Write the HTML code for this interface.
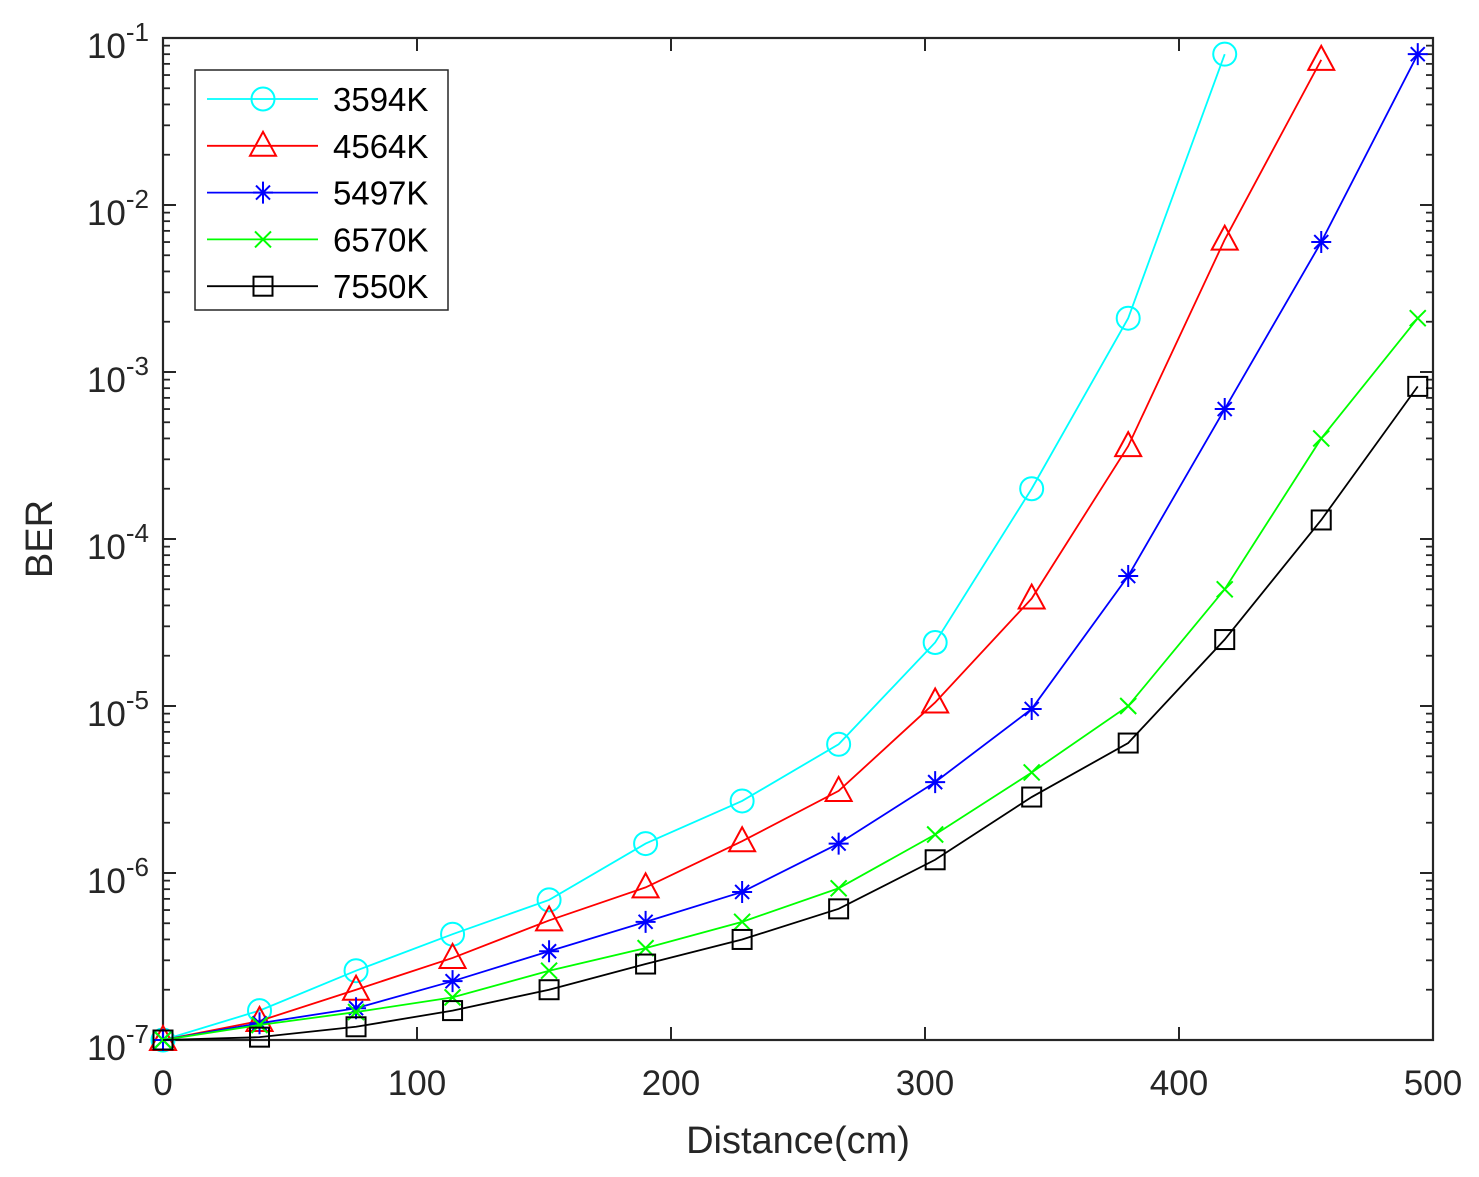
<!DOCTYPE html>
<html><head><meta charset="utf-8"><style>
html,body{margin:0;padding:0;background:#fff}
svg{display:block;font-family:"Liberation Sans",Arial,sans-serif}
</style></head><body>
<svg id="chart" width="1479" height="1177" xmlns="http://www.w3.org/2000/svg"></svg>
<script>
const xValues=[0,38,76,114,152,190,228,266,304,342,380,418,456,494];
const seriesNames=["3594K","4564K","5497K","6570K","7550K"];
const seriesColors=["#00ffff","#ff0000","#0000ff","#00ff00","#000000"];
const seriesMarkers=["circle","triangle","star","x","square"];
const s3594=[1e-7,1.5e-7,2.6e-7,4.3e-7,6.9e-7,1.5e-6,2.7e-6,5.9e-6,2.4e-5,2e-4,2.1e-3,0.08];
const s4564=[1e-7,1.3e-7,2e-7,3.1e-7,5.2e-7,8.2e-7,1.55e-6,3.1e-6,1.05e-5,4.4e-5,3.6e-4,6.2e-3,0.074];
const s5497=[1e-7,1.26e-7,1.55e-7,2.25e-7,3.4e-7,5.1e-7,7.7e-7,1.5e-6,3.5e-6,9.6e-6,6e-5,6e-4,6e-3,0.08];
const s6570=[1e-7,1.23e-7,1.47e-7,1.8e-7,2.6e-7,3.55e-7,5.1e-7,8.1e-7,1.7e-6,4e-6,1e-5,5e-5,4e-4,2.1e-3];
const s7550=[1e-7,1.04e-7,1.2e-7,1.5e-7,2e-7,2.85e-7,4e-7,6.1e-7,1.2e-6,2.85e-6,6e-6,2.5e-5,1.3e-4,8.2e-4];
const xTicks=[0,100,200,300,400,500];
const yTickExps=[-7,-6,-5,-4,-3,-2,-1];

const L=163,R=1433,T=38,B=1040;
const NS="http://www.w3.org/2000/svg";
const svg=document.getElementById('chart');
const X=v=>L+(v-0)/(500-0)*(R-L);
const Y=v=>B-(Math.log10(v)-(-7))/6*(B-T);
function el(tag,attrs,parent){const e=document.createElementNS(NS,tag);for(const k in attrs)e.setAttribute(k,attrs[k]);(parent||svg).appendChild(e);return e;}

const axes=el('g',{});


const frame=el('rect',{x:L,y:T,width:R-L,height:B-T,fill:'none',stroke:'#262626','stroke-width':2.2},axes);


xTicks.forEach(t=>{
  const x=X(t);
  el('line',{x1:x,y1:B,x2:x,y2:B-13,stroke:'#262626','stroke-width':2},axes);
  el('line',{x1:x,y1:T,x2:x,y2:T+13,stroke:'#262626','stroke-width':2},axes);
  const tx=el('text',{x:x,y:B+55,'text-anchor':'middle','font-size':35,fill:'#262626'},axes);
  tx.textContent=t;
  
  
});
yTickExps.forEach(e=>{
  const y=Y(Math.pow(10,e));
  el('line',{x1:L,y1:y,x2:L+13,y2:y,stroke:'#262626','stroke-width':2},axes);
  el('line',{x1:R,y1:y,x2:R-13,y2:y,stroke:'#262626','stroke-width':2},axes);
  for(let m=2;m<10&&e<-1;m++){
    const ym=Y(m*Math.pow(10,e));
    el('line',{x1:L,y1:ym,x2:L+7,y2:ym,stroke:'#262626','stroke-width':1.8},axes);
    el('line',{x1:R,y1:ym,x2:R-7,y2:ym,stroke:'#262626','stroke-width':1.8},axes);
  }
  const tx=el('text',{x:L-14,y:y+20,'text-anchor':'end','font-size':35,fill:'#262626'},axes);
  
  
  const a=document.createElementNS(NS,'tspan');a.textContent='10';tx.appendChild(a);
  const b=document.createElementNS(NS,'tspan');b.setAttribute('dy','-17');b.setAttribute('font-size','26');b.textContent=String(e);tx.appendChild(b);
});
const xl=el('text',{x:798,y:1153,'text-anchor':'middle','font-size':38,fill:'#262626'});
xl.textContent='Distance(cm)';


const yl=el('text',{x:52,y:539,'text-anchor':'middle','font-size':38,fill:'#262626',transform:'rotate(-90 52 539)'});
yl.textContent='BER';



function marker(g,type,x,y,c){
  const sw=2;
  if(type==='circle')el('circle',{cx:x,cy:y,r:11.5,fill:'none',stroke:c,'stroke-width':sw},g);
  else if(type==='triangle')el('polygon',{points:`${x},${y-14} ${x-13},${y+10} ${x+13},${y+10}`,fill:'none',stroke:c,'stroke-width':sw},g);
  else if(type==='square')el('rect',{x:x-9.5,y:y-9.5,width:19,height:19,fill:'none',stroke:c,'stroke-width':sw},g);
  else if(type==='x'){el('path',{d:`M${x-8},${y-8}L${x+8},${y+8}M${x-8},${y+8}L${x+8},${y-8}`,stroke:c,'stroke-width':sw},g);}
  else if(type==='star'){el('path',{d:`M${x-10},${y}L${x+10},${y}M${x},${y-11}L${x},${y+11}M${x-7},${y-7}L${x+7},${y+7}M${x-7},${y+7}L${x+7},${y-7}`,stroke:c,'stroke-width':sw},g);}
}
const allSeries=[s3594,s4564,s5497,s6570,s7550];
allSeries.forEach((s,i)=>{
  const g=el('g',{});
  
  
  const pts=s.map((v,j)=>X(xValues[j])+','+Y(v)).join(' ');
  el('polyline',{points:pts,fill:'none',stroke:seriesColors[i],'stroke-width':1.8},g);
  s.forEach((v,j)=>marker(g,seriesMarkers[i],X(xValues[j]),Y(v),seriesColors[i]));
});

const lg=el('g',{});


el('rect',{x:195,y:70,width:253,height:240,fill:'#fff',stroke:'#262626','stroke-width':1.5},lg);
seriesNames.forEach((n,i)=>{
  const y=99+i*46.8;
  const eg=el('g',{},lg);
  
  
  el('line',{x1:207,y1:y,x2:318,y2:y,stroke:seriesColors[i],'stroke-width':1.8},eg);
  marker(eg,seriesMarkers[i],263,y,seriesColors[i]);
  const t=el('text',{x:333,y:y+12,'font-size':33,fill:'#000'},eg);
  t.textContent=n;
});
</script>
</body></html>
